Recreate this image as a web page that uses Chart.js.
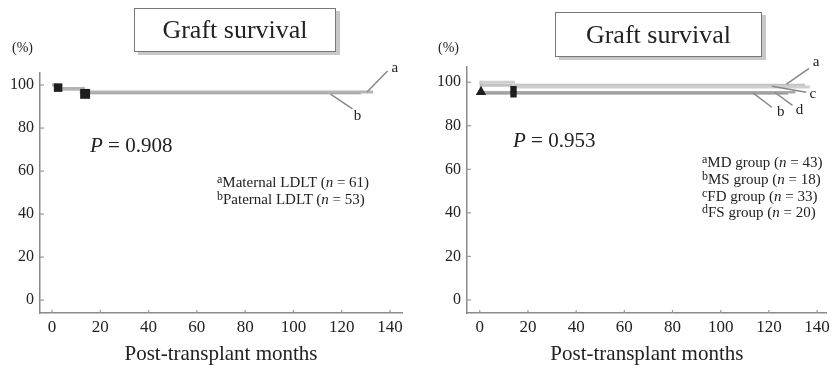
<!DOCTYPE html>
<html lang="en">
<head>
<meta charset="UTF-8">
<title>Graft survival</title>
<script src="https://cdn.jsdelivr.net/npm/chart.js"></script>
<style>
  body { margin:0; width:834px; height:369px; background:#fff; position:relative; overflow:hidden;
         font-family:"Liberation Serif","Times New Roman",serif; color:#222; }
  canvas { position:absolute; top:0; }
  .box { position:absolute; border:1px solid #777; box-shadow:4px 3px 0 #c8c8c8; background:#fff;
         font-size:26px; text-align:center; box-sizing:border-box; }
  .pct { position:absolute; top:40px; font-size:14px; }
  .pval { position:absolute; font-size:21px; line-height:21px; white-space:nowrap; }
  .legend { position:absolute; font-size:15px; line-height:16.8px; white-space:nowrap; }
  .legend sup { font-size:12px; vertical-align:4px; line-height:0; }
</style>
</head>
<body>
  <!-- left panel -->
  <canvas id="left" width="415" height="369" style="left:0"></canvas>
  <div class="box" style="left:134px;top:8px;width:202px;height:44px;line-height:42px">Graft survival</div>
  <div class="pct" style="left:12px">(%)</div>
  <div class="pval" style="left:90px;top:135px"><i>P</i> = 0.908</div>
  <div class="legend" style="left:217px;top:174px">
    <sup>a</sup>Maternal LDLT (<i>n</i> = 61)<br>
    <sup>b</sup>Paternal LDLT (<i>n</i> = 53)
  </div>

  <!-- right panel -->
  <canvas id="right" width="414" height="369" style="left:420px"></canvas>
  <div class="box" style="left:555px;top:12px;width:207px;height:45px;line-height:43px">Graft survival</div>
  <div class="pct" style="left:438px">(%)</div>
  <div class="pval" style="left:513px;top:130px"><i>P</i> = 0.953</div>
  <div class="legend" style="left:702px;top:154px">
    <sup>a</sup>MD group (<i>n</i> = 43)<br>
    <sup>b</sup>MS group (<i>n</i> = 18)<br>
    <sup>c</sup>FD group (<i>n</i> = 33)<br>
    <sup>d</sup>FS group (<i>n</i> = 20)
  </div>

<script>
// ticks
const xTicks = [0, 20, 40, 60, 80, 100, 120, 140];
const yTicks = [0, 20, 40, 60, 80, 100];

// left panel: Kaplan-Meier steps (months, % surviving)
const maternalMonths = [0, 1.5, 13, 133];
const maternalSurv   = [100, 98.4, 96.8, 96.8];
const paternalMonths = [0, 2.5, 12, 128];
const paternalSurv   = [100, 98.1, 96.3, 96.3];
const leftCensorMonths = [2.5, 13.7];
const leftCensorSurv   = [98.8, 95.9];

// right panel
const mdMonths = [0, 1, 135];
const mdSurv   = [100, 98.6, 98.6];
const msMonths = [0, 0.5, 128];
const msSurv   = [100, 94.8, 94.8];
const fdMonths = [0, 14, 137];
const fdSurv   = [100, 97.8, 97.8];
const fsMonths = [0, 0.5, 131];
const fsSurv   = [100, 95.4, 95.4];
const rightCensorMonths = [0.5, 14, 14];
const rightCensorSurv   = [95.5, 96.8, 94.4];

// curve labels: [label, fromX, fromY, toX, toY, textX, textY]
const leftLeaders = [
  ['a', 130.5, 96.8, 139, 106.5, 142, 108],
  ['b', 115.4, 95.8, 124.5, 88.9, 126.6, 85.6]
];
const rightLeaders = [
  ['a', 127.3, 99.1, 136.7, 106.4, 139.6, 109.2],
  ['c', 121.2, 98.2, 135.5, 95.4, 138.2, 94.4],
  ['d', 122.4, 95.4, 129.8, 89.4, 132.7, 87.2],
  ['b', 113.5, 95, 121.2, 88.5, 124.9, 86.2]
];

function pts(xs, ys) { return xs.map((x, i) => ({ x: x, y: ys[i] })); }

function curve(xs, ys, color, width) {
  return { data: pts(xs, ys), showLine: true, stepped: true, pointRadius: 0,
           borderColor: color, borderWidth: width, fill: false };
}

const serif = 'Liberation Serif';

const extras = {
  id: 'extras',
  afterDraw(chart, args, opts) {
    const ctx = chart.ctx, xs = chart.scales.x, ys = chart.scales.y;
    ctx.save();
    // small inward tick marks
    ctx.strokeStyle = '#999';
    ctx.lineWidth = 1.2;
    xTicks.forEach(v => {
      const px = xs.getPixelForValue(v);
      ctx.beginPath(); ctx.moveTo(px, xs.top); ctx.lineTo(px, xs.top - 3); ctx.stroke();
    });
    yTicks.forEach(v => {
      const py = ys.getPixelForValue(v);
      ctx.beginPath(); ctx.moveTo(ys.right, py); ctx.lineTo(ys.right + 4, py); ctx.stroke();
    });
    // leader lines with letters
    ctx.strokeStyle = '#888';
    ctx.lineWidth = 1.5;
    ctx.fillStyle = '#222';
    ctx.font = '15px ' + serif;
    ctx.textAlign = 'center';
    ctx.textBaseline = 'middle';
    (opts.items || []).forEach(l => {
      ctx.beginPath();
      ctx.moveTo(xs.getPixelForValue(l[1]), ys.getPixelForValue(l[2]));
      ctx.lineTo(xs.getPixelForValue(l[3]), ys.getPixelForValue(l[4]));
      ctx.stroke();
      ctx.fillText(l[0], xs.getPixelForValue(l[5]), ys.getPixelForValue(l[6]));
    });
    ctx.restore();
  }
};

function makeChart(id, datasets, cfg) {
  return new Chart(document.getElementById(id), {
    type: 'scatter',
    data: { datasets: datasets },
    plugins: [extras],
    options: {
      responsive: false,
      animation: false,
      layout: { padding: { top: cfg.top, right: cfg.right, left: 0, bottom: 0 } },
      plugins: { legend: { display: false }, tooltip: { enabled: false }, extras: { items: cfg.leaders } },
      scales: {
        x: {
          type: 'linear', min: cfg.xmin, max: cfg.xmax,
          grid: { display: false, drawTicks: false },
          border: { color: '#8a8a8a', width: 1.5 },
          afterFit(s) { s.height = 56; },
          afterBuildTicks(s) { s.ticks = xTicks.map(v => ({ value: v })); },
          ticks: { color: '#222', padding: 4, font: { family: serif, size: 17 } },
          title: { display: true, text: 'Post-transplant months', color: '#222',
                   padding: { top: 0, bottom: 2 }, font: { family: serif, size: 21 } }
        },
        y: {
          type: 'linear', min: -6, max: cfg.ymax,
          grid: { display: false, drawTicks: false },
          border: { color: '#8a8a8a', width: 1.5 },
          afterFit(s) { s.width = cfg.yw; },
          afterBuildTicks(s) { s.ticks = yTicks.map(v => ({ value: v })); },
          ticks: { color: '#222', padding: 6, font: { family: serif, size: 16 } }
        }
      }
    }
  });
}

makeChart('left', [
  { data: pts(leftCensorMonths, leftCensorSurv), pointStyle: 'rect', pointRadius: [6, 7],
    backgroundColor: '#1e1e1e', borderColor: '#1e1e1e', borderWidth: 0 },
  curve(maternalMonths, maternalSurv, '#b4b4b4', 3),
  curve(paternalMonths, paternalSurv, '#9a9a9a', 2.5)
], { top: 73, right: 13, xmin: -5, xmax: 145, ymax: 105.6, yw: 40, leaders: leftLeaders });

makeChart('right', [
  { data: pts(rightCensorMonths, rightCensorSurv), pointStyle: ['triangle', 'rect', 'rect'],
    pointRadius: [6, 4.5, 4.5], backgroundColor: '#1e1e1e', borderColor: '#1e1e1e', borderWidth: 0 },
  curve(fdMonths, fdSurv, '#cfcfcf', 3),
  curve(mdMonths, mdSurv, '#c2c2c2', 3),
  curve(fsMonths, fsSurv, '#a8a8a8', 2.5),
  curve(msMonths, msSurv, '#8c8c8c', 2)
], { top: 67, right: 1, xmin: -5.3, xmax: 144, ymax: 107, yw: 47, leaders: rightLeaders });
</script>
</body>
</html>
